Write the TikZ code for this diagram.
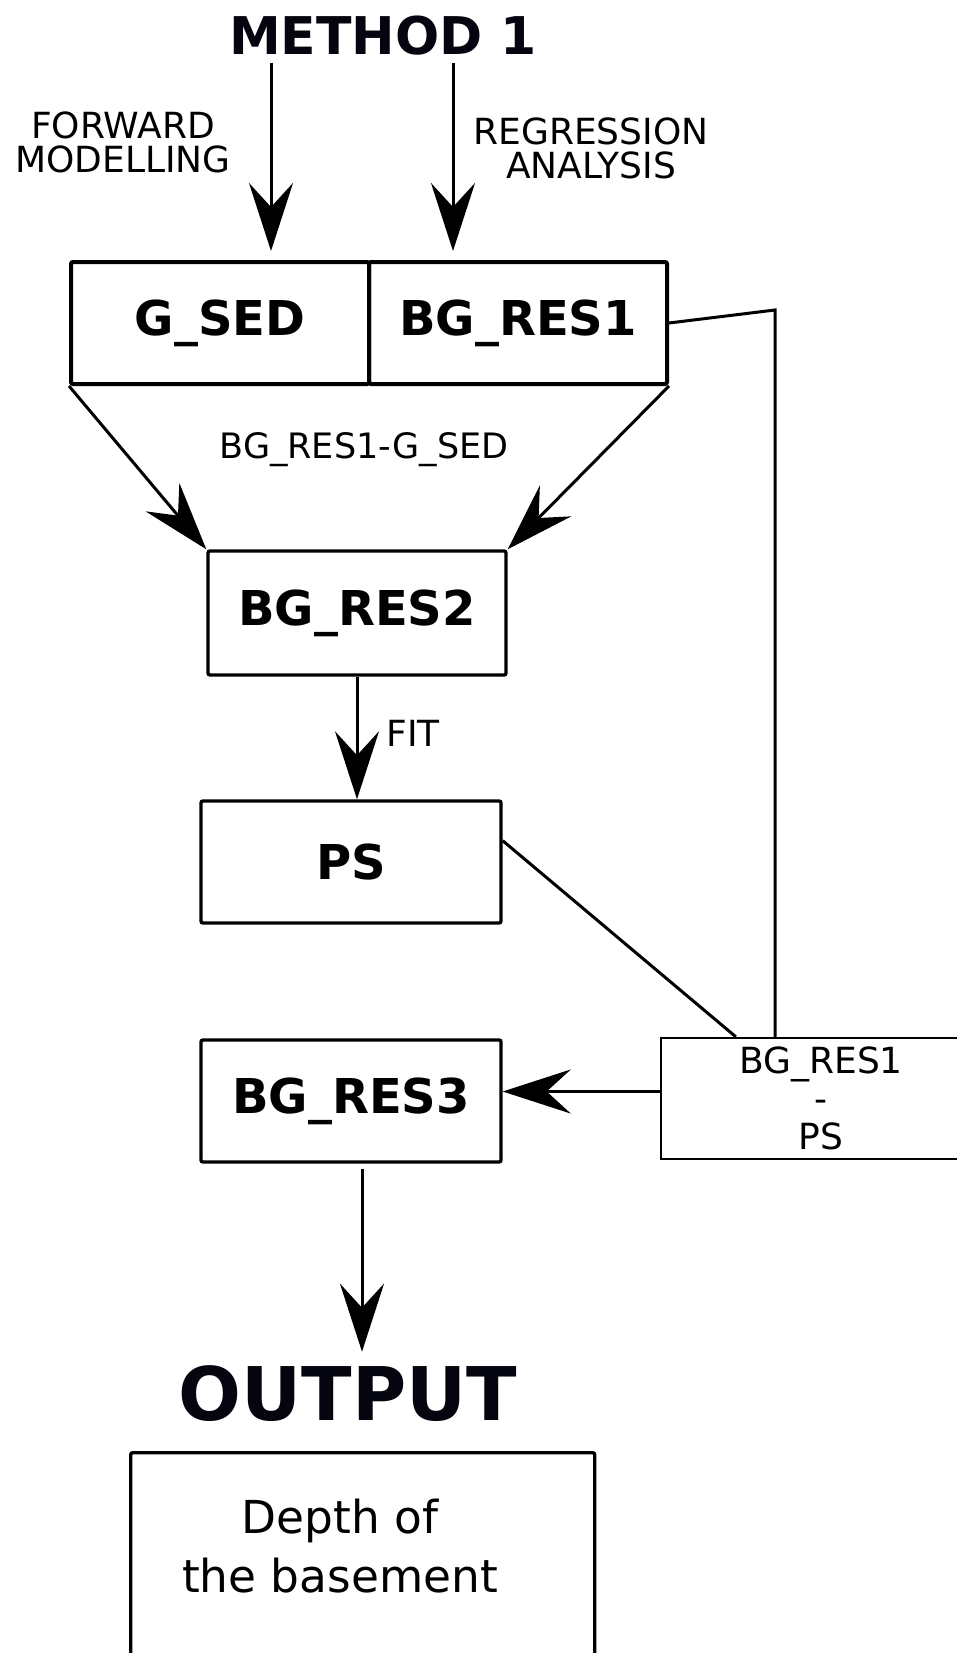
\documentclass[tikz,border=0pt]{standalone}
\usepackage{fontspec}
\setmainfont{DejaVu Sans}
\usetikzlibrary{arrows.meta,calc}
\definecolor{Ink}{HTML}{000000}
\definecolor{Title}{HTML}{05050F}
\begin{document}
\begin{tikzpicture}[x=0.5pt,y=-0.5pt,
  box/.style={draw=Ink,line width=1.7pt,rounded corners=1pt,minimum width=149pt,minimum height=61pt,inner sep=0pt,font=\fontsize{24}{28}\selectfont\bfseries},
  lbl/.style={inner sep=0pt,align=center,font=\fontsize{18}{17}\selectfont},
  arr/.style={Ink,line width=1.5pt,-{Stealth[length=34pt,width=22pt,inset=12pt]}}]
\useasboundingbox (0,0) rectangle (957,1653);
\node[Title,font=\fontsize{26}{30}\selectfont\bfseries,anchor=base,inner sep=0pt] (title) at (383,55) {METHOD 1};
\node[lbl] (fwd) at (123,142) {FORWARD\\MODELLING};
\node[lbl] (regr) at (591,148) {REGRESSION\\ANALYSIS};
\node[box,line width=2pt] (gsed) at (220,323) {G\_SED};
\node[box,line width=2pt] (bgres1) at (518,323) {BG\_RES1};
\node[lbl,font=\fontsize{17.5}{20}\selectfont] (diff) at (364,450) {BG\_RES1-G\_SED};
\node[box,minimum height=62pt] (bgres2) at (357,613) {BG\_RES2};
\node[lbl,anchor=west,font=\fontsize{18}{20}\selectfont] (fit) at (386,733) {FIT};
\node[box,minimum width=150pt] (ps) at (351,862) {PS};
\node[box,minimum width=150pt] (bgres3) at (351,1101) {BG\_RES3};
\node[draw=Ink,line width=1.2pt,minimum width=160pt,minimum height=60.5pt,inner sep=0pt,align=center,font=\fontsize{18}{19}\selectfont] (sub) at (821,1098.5) {BG\_RES1\\-\\PS};
\node[Title,font=\fontsize{37}{40}\selectfont\bfseries,anchor=base,inner sep=0pt] (out) at (348,1420) {OUTPUT};
\node[draw=Ink,line width=1.7pt,rounded corners=1pt,minimum width=232pt,minimum height=150pt,anchor=north west,inner sep=0pt] (outbox) at (129,1451) {};
\node[align=center,inner sep=0pt,font=\fontsize{22.7}{29.5}\selectfont] (depth) at (340,1546) {Depth of\\the basement};
% free ends
\coordinate (t1) at (271,63);
\coordinate (t2) at (453,63);
\coordinate (bend) at (775,310);
\coordinate (sw) at ($(sub.west)+(0,-7)$);
\coordinate (b3) at ($(bgres3.south)+(11,5)$);
\draw[arr,shorten >=4.5pt] (t1) -- (t1 |- gsed.north);
\draw[arr,shorten >=4.5pt] (t2) -- (t2 |- bgres1.north);
\draw[arr] (gsed.south west) -- (bgres2.north west);
\draw[arr] (bgres1.south east) -- (bgres2.north east);
\draw[arr] (bgres2.south) -- (bgres2.south |- ps.north);
\draw[Ink,line width=1.5pt] (bgres1.east) -- (bend) -- (bend |- sub.north);
\draw[Ink,line width=1.5pt] (ps.8) -- ($(sub.north west)+(76,0)$);
\draw[arr] (sw) -- (sw -| bgres3.east);
\draw[arr,shorten >=6.5pt] (b3) -- (b3 |- out.north);
\end{tikzpicture}
\end{document}
